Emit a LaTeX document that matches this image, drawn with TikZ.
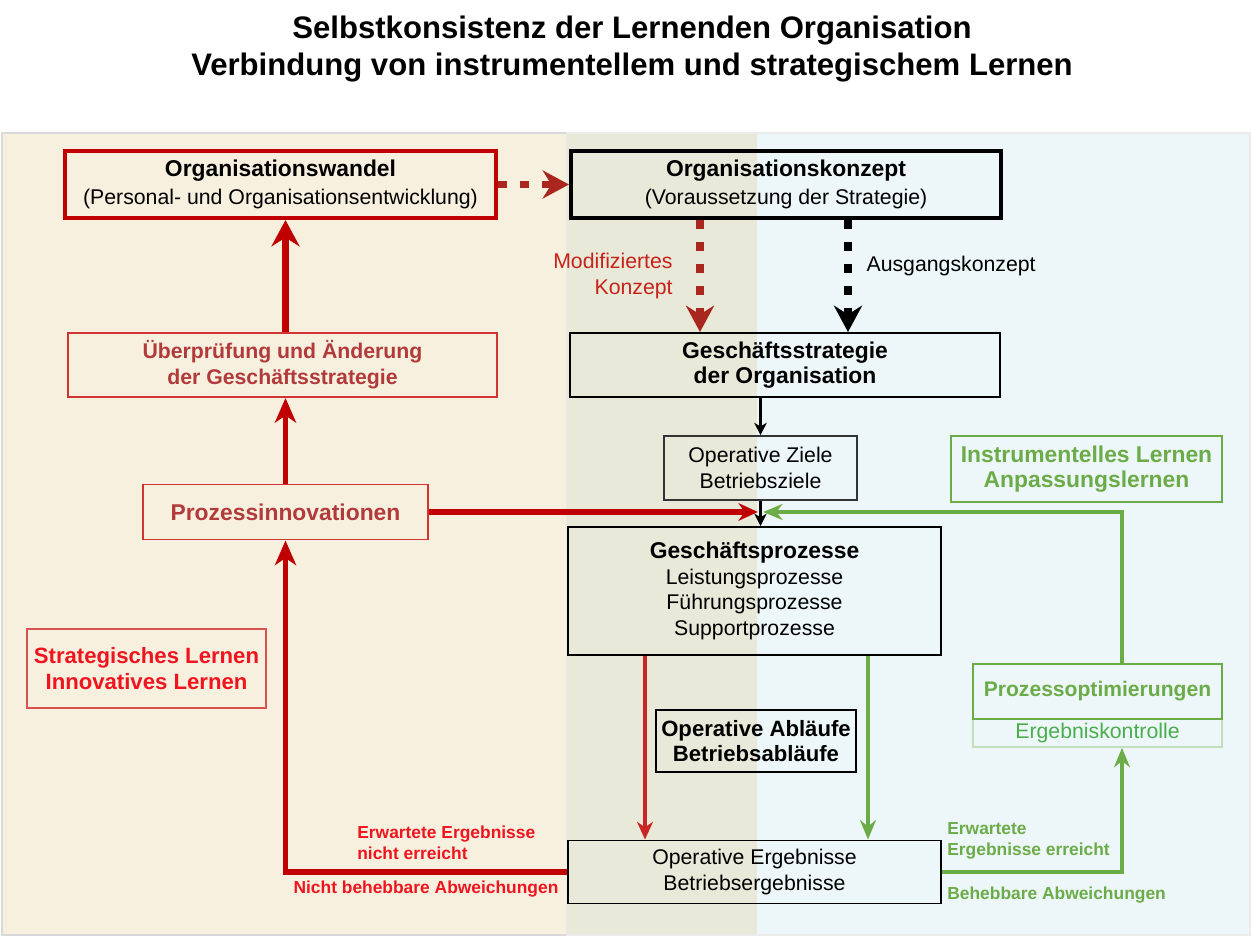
\documentclass[tikz,border=0pt]{standalone}
\usepackage{fontspec}
\setmainfont{Liberation Sans}
\usepackage{tikz}
\usetikzlibrary{arrows.meta}

\definecolor{bgbeige}{HTML}{F7F0DF}
\definecolor{bgblue}{HTML}{EDF6F8}
\definecolor{bgmix}{HTML}{E8E9D8}
\definecolor{deepred}{HTML}{C00000}
\definecolor{dashred}{HTML}{A9271F}
\definecolor{modred}{HTML}{C8221A}
\definecolor{brickred}{HTML}{B23A3A}
\definecolor{boxred}{HTML}{D23434}
\definecolor{signalred}{HTML}{F0141E}
\definecolor{leafgreen}{HTML}{6BAC48}
\definecolor{palegreen}{HTML}{C2DEBC}
\definecolor{checkgreen}{HTML}{4AAE4C}

\begin{document}
\begin{tikzpicture}[line join=miter]
	\def \fnorm{\fontsize{12.1}{14.6}\selectfont}
	\def \fhead{\fontsize{13}{14.6}\selectfont\bfseries}
	\def \fsmall{\fontsize{9.9}{11.9}\selectfont\bfseries}
	\def \ftitle{\fontsize{17.7}{21.5}\selectfont\bfseries}

	\def \toprow{15.07cm}
	\def \stratrow{11.46cm}
	\def \zielrow{9.40cm}
	\def \innovrow{8.52cm}
	\def \prozrow{6.94cm}
	\def \lernrow{5.39cm}
	\def \optrow{4.93cm}
	\def \kontrow{4.10cm}
	\def \ablaufrow{3.94cm}
	\def \ergrow{1.32cm}

	\tikzstyle{panel}=[draw=black!15, line width=0.6pt]
	\tikzstyle{box}=[draw=black, line width=1.1pt, inner sep=0pt, align=center, font=\fnorm]
	\tikzstyle{red-box}=[box, draw=boxred, text=brickred, font=\fhead]
	\tikzstyle{green-box}=[box, draw=leafgreen, text=leafgreen, font=\fhead]
	\tikzstyle{annot}=[inner sep=0pt, align=left, font=\fsmall]
	% arrows
	\tikzstyle{dash-arrow}=[line width=4.5pt, dash pattern=on 5pt off 7.5pt, -{Stealth[length=15pt,width=16pt,inset=5pt]}]
	\tikzstyle{thick-red}=[draw=deepred, line width=3.4pt, -{Stealth[length=14pt,width=12pt,inset=4pt]}]
	\tikzstyle{thin-red}=[draw=deepred!85!white, line width=2pt, -{Stealth[length=10pt,width=9pt,inset=3pt]}]
	\tikzstyle{green-arrow}=[draw=leafgreen, line width=2.3pt, -{Stealth[length=11pt,width=9pt,inset=3.5pt]}]
	\tikzstyle{black-arrow}=[draw=black, line width=1.7pt, -{Stealth[length=7pt,width=7pt,inset=2pt]}]

	\useasboundingbox (0,0) rectangle (25.04cm,18.76cm);

	% background panels
	\filldraw[fill=bgbeige, panel] (0.04cm,0.06cm) rectangle (15.14cm,16.10cm);
	\filldraw[fill=bgblue, draw=black!8, line width=0.6pt] (11.34cm,0.06cm) rectangle (25.0cm,16.10cm);
	\fill[bgmix] (11.34cm,0.08cm) rectangle (15.14cm,16.08cm);

	\node[font=\ftitle, align=center] (title) at (12.64cm,17.78cm) {Selbstkonsistenz der Lernenden Organisation\\Verbindung von instrumentellem und strategischem Lernen};

	% left column
	\node[box, draw=deepred, line width=2.3pt, minimum width=8.62cm, minimum height=1.34cm] (wandel) at (5.61cm,\toprow) {{\fhead Organisationswandel}\\[1.3pt](Personal- und Organisationsentwicklung)};
	\node[red-box, font=\fnorm\bfseries, minimum width=8.58cm, minimum height=1.28cm] (pruefung) at (5.65cm,\stratrow) {Überprüfung und Änderung\\der Geschäftsstrategie};
	\node[red-box, minimum width=5.7cm, minimum height=1.1cm] (innov) at (5.71cm,\innovrow) {Prozessinnovationen};
	\node[red-box, draw=boxred!85, line width=0.8pt, text=signalred, font=\fontsize{12.6}{14.6}\selectfont\bfseries, minimum width=4.78cm, minimum height=1.58cm] (lernen) at (2.93cm,\lernrow) {Strategisches Lernen\\Innovatives Lernen};

	% middle column
	\node[box, line width=2.3pt, minimum width=8.6cm, minimum height=1.34cm] (konzept) at (15.72cm,\toprow) {{\fhead Organisationskonzept}\\[1.3pt](Voraussetzung der Strategie)};
	\node[box, font=\fhead, minimum width=8.6cm, minimum height=1.28cm] (strategie) at (15.70cm,\stratrow) {Geschäftsstrategie\\der Organisation};
	\node[box, draw=black!80, line width=0.9pt, minimum width=3.86cm, minimum height=1.28cm] (ziele) at (15.21cm,\zielrow) {Operative Ziele\\Betriebsziele};
	\node[box, minimum width=7.46cm, minimum height=2.56cm] (prozesse) at (15.09cm,\prozrow) {{\fhead Geschäftsprozesse}\\Leistungsprozesse\\Führungsprozesse\\Supportprozesse};
	\node[box, font=\fontsize{12.6}{14.6}\selectfont\bfseries, minimum width=4cm, minimum height=1.24cm] (ablaeufe) at (15.12cm,\ablaufrow) {Operative Abläufe\\Betriebsabläufe};
	\node[box, minimum width=7.46cm, minimum height=1.26cm] (ergebnisse) at (15.09cm,\ergrow) {Operative Ergebnisse\\Betriebsergebnisse};

	% right column
	\node[green-box, line width=1pt, minimum width=5.42cm, minimum height=1.32cm] (instr) at (21.73cm,9.38cm) {Instrumentelles Lernen\\Anpassungslernen};
	\node[box, draw=palegreen, line width=1pt, text=checkgreen, minimum width=4.98cm, minimum height=0.56cm] (kontrolle) at (21.95cm,\kontrow) {Ergebniskontrolle};
	\node[green-box, line width=1.1pt, font=\fontsize{12}{14}\selectfont\bfseries, minimum width=4.98cm, minimum height=1.10cm] (optim) at (21.95cm,\optrow) {Prozessoptimierungen};

	% labels
	\node[annot, text=signalred, anchor=west] (nicht-erreicht) at (7.14cm,1.91cm) {Erwartete Ergebnisse\\nicht erreicht};
	\node[annot, text=signalred] (nicht-behebbar) at (8.52cm,0.98cm) {Nicht behebbare Abweichungen};
	\node[annot, text=leafgreen, anchor=west] (erreicht) at (18.94cm,1.95cm) {Erwartete\\Ergebnisse erreicht};
	\node[annot, text=leafgreen, anchor=west] (behebbar) at (18.94cm,0.86cm) {Behebbare Abweichungen};

	\coordinate (modx) at (14.0cm,0);
	\coordinate (ausx) at (16.96cm,0);
	\coordinate (redx) at (12.9cm,0);
	\coordinate (greenx) at (17.36cm,0);
	\coordinate (optx) at (22.44cm,0);
	\coordinate (merge) at (ziele.south |- innov.east);

	\path
		(wandel)	edge[dash-arrow, draw=dashred]	(konzept)
		(konzept.south -| modx)	edge[dash-arrow, draw=dashred]	node[left=10pt, align=right, text=modred, font=\fnorm] {Modifiziertes\\Konzept}	(strategie.north -| modx)
		(konzept.south -| ausx)	edge[dash-arrow, draw=black]	node[right=5pt, pos=0.41, font=\fnorm] {Ausgangskonzept}	(strategie.north -| ausx)
		(strategie.south -| ziele.north)	edge[black-arrow]	(ziele.north)
		(ziele.south)	edge[black-arrow]	(ziele.south |- prozesse.north)
		%
		(innov.east)	edge[thick-red, line width=2.9pt, shorten >=1.5pt, -{Stealth[length=11pt,width=10pt,inset=3.5pt]}]	(merge)
		(innov.north)	edge[thick-red]	(innov.north |- pruefung.south)
		(pruefung.north -| innov.north)	edge[thick-red, line width=4.5pt, -{Stealth[length=15pt,width=16pt,inset=5pt]}]	(innov.north |- wandel.south)
		%
		(prozesse.south -| redx)	edge[thin-red]	(ergebnisse.north -| redx)
		(prozesse.south -| greenx)	edge[green-arrow]	(ergebnisse.north -| greenx);

	\draw[thick-red] (ergebnisse.west) -| (innov.south);
	\draw[green-arrow, line width=2.6pt] (ergebnisse.east) -| (optx |- kontrolle.south);
	\draw[green-arrow, shorten >=1.5pt] (optx |- optim.north) |- (merge);
\end{tikzpicture}
\end{document}
